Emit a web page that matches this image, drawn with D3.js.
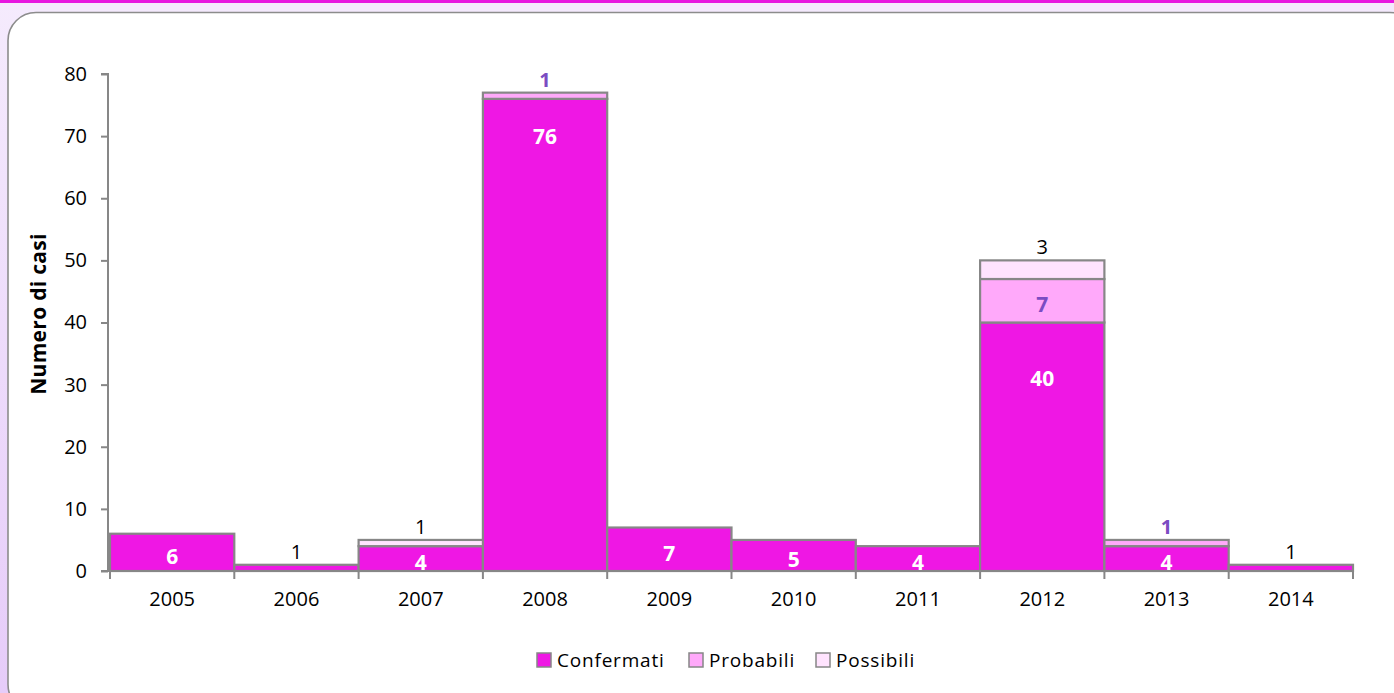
<!DOCTYPE html>
<meta charset="utf-8">
<script src="https://d3js.org/d3.v7.min.js"></script>
<style>
  html, body { margin: 0; padding: 0; }
  body { width: 1394px; height: 693px; overflow: hidden; }
  text { font-family: "Open Sans", "Liberation Sans", sans-serif; }
</style>
<div id="chart"></div>
<script>

// data
const years = ["2005", "2006", "2007", "2008", "2009", "2010", "2011", "2012", "2013", "2014"];
const confermati = [6, 1, 4, 76, 7, 5, 4, 40, 4, 1];
const probabili  = [0, 0, 0, 1, 0, 0, 0, 7, 1, 0];
const possibili  = [0, 0, 1, 0, 0, 0, 0, 3, 0, 0];
const seriesNames = ["Confermati", "Probabili", "Possibili"];
const yTicks = [0, 10, 20, 30, 40, 50, 60, 70, 80];

const colors = ["#ef17e4", "#ffa9fa", "#ffe3fe"];
const W = 1394, H = 693;

// table for d3.stack
const table = years.map((y, i) => ({
  year: y, Confermati: confermati[i], Probabili: probabili[i], Possibili: possibili[i]
}));

const svg = d3.select("#chart").append("svg")
    .attr("width", W)
    .attr("height", H);

// background: lavender page, magenta top strip, white rounded panel
const defs = svg.append("defs");
const grad = defs.append("linearGradient").attr("id", "bg")
    .attr("x1", 0).attr("y1", 0).attr("x2", 0).attr("y2", 1);
grad.append("stop").attr("offset", "0%").attr("stop-color", "#f5ebfd");
grad.append("stop").attr("offset", "100%").attr("stop-color", "#e6ccf9");

svg.append("rect").attr("width", W).attr("height", H).attr("fill", "#f4eafd");
svg.append("rect").attr("width", 20).attr("height", H).attr("fill", "url(#bg)");
svg.append("rect").attr("width", W).attr("height", 3).attr("fill", "#e817e0");
svg.append("rect")
    .attr("x", 8).attr("y", 12.5)
    .attr("width", 1410).attr("height", 700)
    .attr("rx", 28).attr("ry", 28)
    .attr("fill", "#fff")
    .attr("stroke", "#8c8c8c")
    .attr("stroke-width", 1.6);

// scales
const x = d3.scaleBand().domain(years).range([110, 1353]).padding(0);
const y = d3.scaleLinear().domain([0, 80]).range([571, 74]);

const stack = d3.stack().keys(seriesNames)(table);

// bars
const g = svg.append("g");
stack.forEach((layer, si) => {
  g.selectAll(null)
    .data(layer.filter(d => d[1] > d[0]))
    .enter().append("rect")
      .attr("x", d => x(d.data.year))
      .attr("y", d => y(d[1]))
      .attr("width", x.bandwidth())
      .attr("height", d => y(d[0]) - y(d[1]))
      .attr("fill", colors[si])
      .attr("stroke", "#878787")
      .attr("stroke-width", 2.2);
});

// axes
const axisColor = "#878787";
const yAxis = svg.append("g")
    .attr("transform", "translate(108,0)")
    .call(d3.axisLeft(y).tickValues(yTicks).tickSize(7).tickPadding(14));
const xAxis = svg.append("g")
    .attr("transform", "translate(0,571)")
    .call(d3.axisBottom(x).tickSize(0).tickPadding(21));

[yAxis, xAxis].forEach(a => {
  a.select(".domain").attr("stroke", axisColor).attr("stroke-width", 2);
  a.selectAll(".tick line").attr("stroke", axisColor).attr("stroke-width", 2);
  a.selectAll(".tick text")
    .attr("fill", "#000")
    .style("font-size", "20px")
    .style("font-family", "'Open Sans', sans-serif");
});
yAxis.select(".domain").attr("d", "M-7,74H0V571H-7");
xAxis.select(".domain").attr("d", "M108,0H1353");

// tick marks between categories
svg.append("g").selectAll("line")
  .data(years.map(yy => x(yy)).concat([x.range()[1]]))
  .enter().append("line")
    .attr("x1", d => d).attr("x2", d => d)
    .attr("y1", 571).attr("y2", 579)
    .attr("stroke", axisColor).attr("stroke-width", 2);

// y axis title
svg.append("text")
    .attr("transform", "translate(46,314) rotate(-90)")
    .attr("text-anchor", "middle")
    .attr("font-size", "21px")
    .attr("font-weight", "bold")
    .attr("letter-spacing", "0.3px")
    .text("Numero di casi");

// value labels
const labels = svg.append("g").attr("text-anchor", "middle").attr("font-size", "21px");
years.forEach((yr, i) => {
  const cx = x(yr) + x.bandwidth() / 2;
  let aboveY = y(confermati[i] + probabili[i] + possibili[i]) - 6;
  stack.forEach((layer, si) => {
    const d = layer[i];
    const v = d[1] - d[0];
    if (v <= 0) return;
    const top = y(d[1]), bottom = y(d[0]);
    const h = bottom - top;
    const t = labels.append("text").text(v);
    if (h < 20) {
      // small segments: label sits above the column
      t.attr("x", cx).attr("y", aboveY).attr("font-size", "20px");
      aboveY -= 22;
      if (si === 1) t.attr("fill", "#7b4cc2").attr("font-weight", "bold");
      else t.attr("fill", "#000");
    } else {
      let ly = h > 100 ? top + 38 + (471 - h) * 0.08 : (top + bottom) / 2 + 4;
      t.attr("x", cx).attr("y", ly).attr("dy", "0.36em")
        .attr("font-weight", "bold")
        .attr("fill", si === 0 ? "#fff" : "#7b4cc2");
    }
  });
});

// legend
const legendX = [537, 689, 816];
const legend = svg.append("g");
seriesNames.forEach((name, i) => {
  legend.append("rect")
      .attr("x", legendX[i]).attr("y", 653)
      .attr("width", 14).attr("height", 14)
      .attr("fill", colors[i])
      .attr("stroke", "#878787").attr("stroke-width", 1.5);
  legend.append("text")
      .attr("x", legendX[i] + 20).attr("y", 660)
      .attr("dy", "0.36em")
      .attr("font-size", "19px")
      .attr("letter-spacing", "0.8px")
      .text(name);
});
</script>
